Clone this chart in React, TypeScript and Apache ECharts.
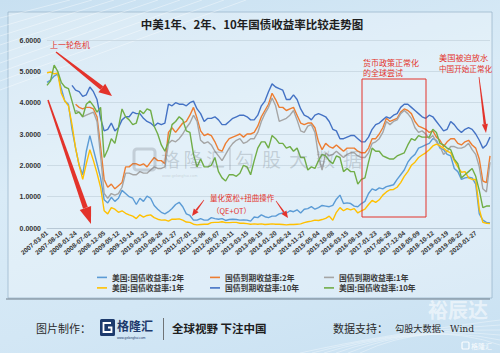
import React, { useEffect, useRef } from "react";
import * as echarts from "echarts";

// ---------- tick labels (x axis shows every 4th sample) ----------
const tickLabels = [
  "2007-03-01", "2007-08-10", "2008-01-24", "2008-07-02", "2008-12-05", "2009-05-12",
  "2009-10-14", "2010-03-23", "2010-08-26", "2011-01-27", "2011-07-01", "2011-12-06",
  "2012-05-07", "2012-10-11", "2013-03-15", "2013-08-15", "2014-01-20", "2014-06-24",
  "2014-11-27", "2015-05-04", "2015-10-08", "2016-03-15", "2016-08-19", "2017-01-23",
  "2017-06-28", "2017-12-04", "2018-05-09", "2018-10-12", "2019-03-19", "2019-08-22",
  "2020-01-27",
];
const STEP = 4;
const yTicks = [0, 1, 2, 3, 4, 5, 6];

// ---------- series values ----------
const usT2 = [
  4.65, 4.72, 4.85, 4.92, 4.45, 4.05, 3.95, 3.15, 2.55, 2.00,
  1.70, 2.45, 2.95, 2.50, 2.05, 1.60, 0.90, 0.80, 0.98, 0.85,
  0.95, 1.20, 1.10, 1.00, 0.95, 0.75, 0.95, 0.85, 1.02, 0.95,
  0.72, 0.60, 0.50, 0.45, 0.52, 0.62, 0.75, 0.82, 0.68, 0.45,
  0.40, 0.25, 0.25, 0.30, 0.25, 0.25, 0.33, 0.30, 0.28, 0.30,
  0.24, 0.27, 0.28, 0.27, 0.25, 0.26, 0.25, 0.22, 0.35, 0.33,
  0.42, 0.36, 0.33, 0.38, 0.38, 0.45, 0.48, 0.47, 0.55, 0.52,
  0.58, 0.48, 0.60, 0.62, 0.68, 0.60, 0.65, 0.72, 0.70, 0.68,
  0.72, 0.92, 1.05, 0.78, 0.80, 0.78, 0.70, 0.68, 0.78, 0.85,
  1.10, 1.25, 1.20, 1.28, 1.25, 1.32, 1.35, 1.38, 1.55, 1.70,
  1.85, 2.10, 2.25, 2.35, 2.55, 2.60, 2.65, 2.70, 2.85, 2.80,
  2.55, 2.50, 2.35, 2.30, 1.90, 1.80, 1.55, 1.60, 1.62, 1.60,
  1.40, 0.45, 0.25, 0.18, 0.16,
];
const cnT2 = [
  null, null, null, null, null, null, null, null, 3.95, 3.85,
  3.80, 3.85, 3.85, 3.80, 3.55, 2.60, 1.55, 1.30, 1.40, 1.25,
  1.35, 1.45, 1.95, 1.95, 2.05, 2.05, 2.00, 2.05, 1.95, 2.10,
  2.25, 2.15, 2.15, 2.05, 3.05, 3.20, 3.05, 3.20, 3.35, 3.40,
  3.60, 3.85, 3.50, 3.10, 2.95, 3.00, 2.95, 2.75, 2.50, 2.45,
  2.70, 2.85, 2.90, 2.95, 3.00, 2.90, 3.00, 3.00, 3.05, 3.25,
  3.55, 3.75, 3.95, 4.30, 4.10, 3.85, 3.85, 3.75, 3.80, 3.85,
  3.60, 3.35, 3.30, 3.35, 3.35, 3.20, 2.75, 2.50, 2.70, 2.60,
  2.55, 2.65, 2.55, 2.45, 2.55, 2.55, 2.55, 2.45, 2.40, 2.40,
  2.55, 2.85, 2.85, 3.00, 3.20, 3.50, 3.40, 3.45, 3.50, 3.70,
  3.80, 3.75, 3.65, 3.40, 3.25, 3.20, 3.15, 3.05, 3.10, 2.90,
  2.80, 2.60, 2.75, 2.85, 2.85, 2.70, 2.65, 2.75, 2.80, 2.65,
  2.55, 2.20, 1.50, 1.45, 2.30,
];
const cnT1 = [
  null, null, null, null, null, null, null, null, 3.75, 3.70,
  3.55, 3.60, 3.65, 3.70, 3.40, 2.30, 1.10, 0.95, 1.10, 1.05,
  1.10, 1.30, 1.75, 1.75, 1.70, 1.70, 1.80, 1.75, 1.75, 1.85,
  1.95, 1.90, 1.90, 1.95, 2.70, 2.80, 2.75, 2.85, 3.00, 3.20,
  3.35, 3.60, 3.40, 2.80, 2.70, 2.75, 2.65, 2.45, 2.30, 2.15,
  2.35, 2.55, 2.70, 2.80, 2.85, 2.70, 2.75, 2.85, 2.85, 3.05,
  3.40, 3.65, 3.85, 4.15, 3.90, 3.40, 3.45, 3.50, 3.60, 3.75,
  3.45, 3.10, 3.05, 3.25, 3.30, 3.05, 2.30, 1.85, 2.40, 2.30,
  2.35, 2.45, 2.35, 2.25, 2.35, 2.40, 2.40, 2.30, 2.25, 2.25,
  2.40, 2.70, 2.75, 2.85, 3.05, 3.40, 3.30, 3.40, 3.45, 3.65,
  3.75, 3.65, 3.50, 3.20, 3.05, 3.10, 3.00, 2.85, 2.95, 2.75,
  2.60, 2.35, 2.45, 2.60, 2.60, 2.55, 2.55, 2.60, 2.70, 2.50,
  2.35, 1.95, 1.25, 1.15, 2.10,
];
const usT1 = [
  4.95, 4.98, 4.92, 4.95, 4.30, 4.05, 3.90, 3.30, 2.55, 2.00,
  1.55, 2.05, 2.50, 2.15, 1.75, 1.30, 0.55, 0.45, 0.65, 0.60,
  0.50, 0.55, 0.47, 0.42, 0.38, 0.30, 0.42, 0.35, 0.40, 0.42,
  0.33, 0.28, 0.25, 0.26, 0.22, 0.28, 0.28, 0.29, 0.25, 0.19,
  0.18, 0.12, 0.10, 0.11, 0.12, 0.12, 0.17, 0.18, 0.18, 0.20,
  0.17, 0.17, 0.18, 0.18, 0.15, 0.15, 0.14, 0.12, 0.13, 0.12,
  0.13, 0.11, 0.12, 0.13, 0.12, 0.12, 0.11, 0.10, 0.11, 0.11,
  0.12, 0.13, 0.17, 0.20, 0.22, 0.25, 0.24, 0.27, 0.31, 0.38,
  0.25, 0.50, 0.65, 0.55, 0.62, 0.58, 0.62, 0.48, 0.55, 0.60,
  0.75, 0.88, 0.82, 0.90, 1.05, 1.15, 1.22, 1.23, 1.30, 1.45,
  1.65, 1.80, 2.00, 2.10, 2.25, 2.33, 2.40, 2.50, 2.62, 2.68,
  2.62, 2.55, 2.45, 2.40, 2.15, 1.95, 1.78, 1.80, 1.60, 1.55,
  1.55, 0.60, 0.18, 0.15, 0.14,
];
const cnT10 = [
  null, null, null, null, null, null, null, 4.55, 4.40, 4.35,
  4.20, 4.25, 4.50, 4.35, 4.10, 3.50, 3.10, 3.15, 3.35, 3.10,
  3.20, 3.45, 3.55, 3.55, 3.70, 3.65, 3.65, 3.50, 3.40, 3.35,
  3.25, 3.35, 3.30, 3.35, 3.95, 3.90, 4.00, 3.95, 3.95, 3.90,
  4.00, 4.05, 3.80, 3.65, 3.40, 3.50, 3.50, 3.55, 3.45, 3.30,
  3.30, 3.40, 3.50, 3.55, 3.60, 3.60, 3.55, 3.45, 3.45, 3.60,
  3.90, 4.05, 4.35, 4.60, 4.50, 4.45, 4.40, 4.10, 4.10, 4.25,
  4.10, 3.80, 3.60, 3.55, 3.45, 3.60, 3.65, 3.60, 3.55, 3.40,
  3.15, 3.10, 2.85, 2.85, 2.90, 2.95, 2.95, 2.85, 2.75, 2.75,
  2.90, 3.15, 3.30, 3.35, 3.45, 3.55, 3.50, 3.60, 3.65, 3.85,
  3.95, 3.95, 3.85, 3.75, 3.65, 3.55, 3.50, 3.60, 3.55, 3.40,
  3.25, 3.10, 3.15, 3.40, 3.30, 3.15, 3.05, 3.15, 3.20, 3.15,
  3.00, 2.80, 2.55, 2.65, 2.90,
];
const usT10 = [
  4.55, 4.70, 5.20, 5.00, 4.65, 4.50, 4.45, 4.05, 3.65, 3.70,
  3.55, 3.95, 4.05, 3.90, 3.70, 3.85, 2.25, 2.50, 2.85, 2.70,
  3.20, 3.80, 3.55, 3.45, 3.30, 3.35, 3.75, 3.65, 3.80, 3.75,
  3.25, 3.00, 2.65, 2.45, 2.75, 3.30, 3.40, 3.55, 3.45, 3.10,
  3.05, 2.35, 1.95, 2.20, 1.95, 1.95, 2.00, 2.25, 1.80, 1.60,
  1.50, 1.70, 1.70, 1.65, 1.75, 2.00, 1.95, 1.70, 2.15, 2.55,
  2.75, 2.75, 2.55, 2.95, 2.85, 2.70, 2.70, 2.55, 2.60, 2.45,
  2.55, 2.25, 2.25, 1.85, 1.95, 1.90, 2.15, 2.35, 2.30, 2.15,
  2.05, 2.30, 2.25, 1.80, 1.90, 1.80, 1.80, 1.40, 1.55, 1.60,
  2.10, 2.55, 2.45, 2.45, 2.30, 2.25, 2.20, 2.20, 2.30, 2.35,
  2.40, 2.65, 2.85, 2.80, 2.95, 2.90, 2.90, 2.90, 3.15, 3.05,
  2.70, 2.65, 2.55, 2.50, 2.20, 2.05, 1.60, 1.70, 1.80, 1.90,
  1.65, 1.20, 0.65, 0.70, 0.70,
];

const seriesNames = [
  "美国:国债收益率:2年",
  "国债到期收益率:2年",
  "国债到期收益率:1年",
  "美国:国债收益率:1年",
  "国债到期收益率:10年",
  "美国:国债收益率:10年",
];
const seriesData = [usT2, cnT2, cnT1, usT1, cnT10, usT10];
const seriesColors = ["#5b9bd5", "#ed7d31", "#a5a5a5", "#ffc000", "#4472c4", "#70ad47"];

// ---------- styling / layout ----------
const RED = "#e3332b";
const CJK = '"Noto Sans CJK SC", "Noto Sans", sans-serif';
const LEG_POS = [
  [97, 273.5], [210, 273.5], [324, 273.5],
  [97, 284], [210, 284], [324, 284],
];

function arrow(x1: number, y1: number, x2: number, y2: number, w: number, hw: number, hl: number) {
  const dx = x2 - x1, dy = y2 - y1;
  const L = Math.hypot(dx, dy);
  const ux = dx / L, uy = dy / L;
  const px = -uy, py = ux;
  const nx = x2 - ux * hl, ny = y2 - uy * hl;
  const t = w * 0.15;
  return [
    {
      type: "polygon", silent: true, z: 100,
      shape: { points: [[x1 + px * t, y1 + py * t], [nx + px * w / 2, ny + py * w / 2], [nx - px * w / 2, ny - py * w / 2], [x1 - px * t, y1 - py * t]] },
      style: { fill: RED },
    },
    {
      type: "polygon", silent: true, z: 100,
      shape: { points: [[x2, y2], [nx + px * hw / 2, ny + py * hw / 2], [nx - px * hw / 2, ny - py * hw / 2]] },
      style: { fill: RED },
    },
  ];
}

function txt(x: number, y: number, text: string, o: any = {}) {
  return {
    type: "text", silent: true, z: o.z ?? 100, x, y,
    style: {
      text,
      fill: o.fill ?? "#333",
      fontSize: o.fontSize ?? 8,
      fontWeight: o.fontWeight ?? "normal",
      fontFamily: o.fontFamily ?? CJK,
      align: o.align ?? "left",
      verticalAlign: "middle",
    },
  };
}

export default function App() {
  const ref = useRef<HTMLDivElement>(null);

  useEffect(() => {
    if (!ref.current) return;
    const chart = echarts.init(ref.current, undefined, { renderer: "svg" });

    const n = usT2.length;
    const categories = Array.from({ length: n }, (_, i) => {
      const k = Math.min(Math.floor(i / STEP), tickLabels.length - 1);
      const r = i - k * STEP;
      return r === 0 ? tickLabels[k] : `${tickLabels[k]}·${r}`;
    });

    const deco: any[] = [];
    // background panel & decorations
    deco.push({
      type: "rect", silent: true, z: -10,
      shape: { x: 8, y: 12, width: 484, height: 286 },
      style: { fill: "rgba(255,255,255,0.28)", stroke: "rgba(150,178,200,0.7)", lineWidth: 1 },
    });
    for (let k = 0; k < 9; k++) {
      deco.push({
        type: "line", silent: true, z: -9,
        shape: { x1: 0, y1: 18 + k * 9, x2: 70 + k * 22, y2: 0 },
        style: { stroke: "rgba(255,255,255,0.55)", lineWidth: 0.7 },
      });
    }
    for (let k = 0; k < 6; k++) {
      deco.push({
        type: "bezierCurve", silent: true, z: -9,
        shape: { x1: 300 + k * 12, y1: 353, cpx1: 380 + k * 10, cpy1: 335 - k * 3, x2: 500, y2: 320 + k * 5 },
        style: { stroke: "rgba(255,255,255,0.5)", lineWidth: 0.7, fill: null },
      });
    }
    deco.push({
      type: "line", silent: true, z: 1,
      shape: { x1: 6, y1: 299, x2: 490, y2: 299 },
      style: { stroke: "#6f7d89", lineWidth: 1 },
    });

    // title
    deco.push(txt(252, 24, "中美1年、2年、10年国债收益率比较走势图", { fontSize: 11.5, fontWeight: "bold", fill: "#1e1e1e", align: "center" }));

    // watermark in the middle
    const wm = "rgba(110,120,130,0.28)";
    deco.push({
      type: "rect", silent: true, z: 5,
      shape: { x: 134, y: 149, width: 21, height: 21, r: 3 },
      style: { fill: "none", stroke: wm, lineWidth: 3 },
    });
    ["格", "隆", "汇"].forEach((c, i) => deco.push(txt(161 + i * 22.5, 158, c, { fontSize: 19, fill: wm, z: 5 })));
    deco.push({ type: "line", silent: true, z: 5, shape: { x1: 230, y1: 148, x2: 230, y2: 170 }, style: { stroke: wm, lineWidth: 1.5 } });
    ["勾", "股", "大", "数", "据"].forEach((c, i) => deco.push(txt(235 + i * 27, 158, c, { fontSize: 19, fill: wm, z: 5 })));
    deco.push(txt(162, 175, "www.gelonghui.com", { fontSize: 4, fill: wm, z: 5, fontFamily: "Liberation Sans" }));

    // annotations
    deco.push(txt(50, 44, "上一轮危机", { fill: RED, fontSize: 8 }));
    deco.push(...arrow(56, 52, 112, 96, 4.5, 11, 13));
    deco.push(...arrow(48, 100, 91, 224, 5, 12, 17));
    deco.push(txt(210, 197, "量化宽松+扭曲操作", { fill: RED, fontSize: 7.5 }));
    deco.push(txt(212, 210, "（QE+OT）", { fill: RED, fontSize: 7.5 }));
    deco.push(...arrow(204, 200, 192, 216, 1.8, 6, 7));
    deco.push(...arrow(276, 201, 288, 218, 1.8, 6, 7));
    deco.push(txt(363, 62, "货币政策正常化", { fill: RED, fontSize: 8 }));
    deco.push(txt(363, 72, "的全球尝试", { fill: RED, fontSize: 8 }));
    deco.push({
      type: "rect", silent: true, z: 100,
      shape: { x: 362, y: 79, width: 64, height: 138 },
      style: { fill: "none", stroke: RED, lineWidth: 1 },
    });
    deco.push(txt(439, 57, "美国被迫放水", { fill: RED, fontSize: 8.2 }));
    deco.push(txt(439, 68, "中国开始正常化", { fill: RED, fontSize: 7.6 }));
    deco.push(...arrow(479, 77, 486, 133, 2.5, 6, 9));

    // footer
    deco.push(txt(36, 328, "图片制作：", { fontSize: 11, fill: "#2a2a2a" }));
    deco.push({
      type: "rect", silent: true, z: 10,
      shape: { x: 100, y: 319, width: 15, height: 17, r: 1.5 },
      style: { fill: "#1d3a6c" },
    });
    deco.push({
      type: "polyline", silent: true, z: 11,
      shape: { points: [[111, 323], [103.5, 323], [103.5, 332], [111.5, 332], [111.5, 327.5], [108, 327.5]] },
      style: { stroke: "#ffffff", lineWidth: 1.8, fill: null },
    });
    deco.push(txt(117, 325, "格隆汇", { fontSize: 12, fontWeight: "bold", fill: "#1d3a6c" }));
    deco.push(txt(117, 337.5, "www.gelonghui.com", { fontSize: 3.2, fill: "#1d3a6c", fontFamily: "Liberation Sans" }));
    deco.push({ type: "line", silent: true, z: 10, shape: { x1: 163.5, y1: 318, x2: 163.5, y2: 340 }, style: { stroke: "#555", lineWidth: 0.8 } });
    deco.push(txt(172, 328, "全球视野 下注中国", { fontSize: 11.5, fontWeight: "bold", fill: "#1e1e1e" }));
    deco.push(txt(333, 328, "数据支持：", { fontSize: 11, fill: "#2a2a2a" }));
    deco.push(txt(395, 328.5, "勾股大数据、Wind", { fontSize: 9.2, fill: "#2a2a2a", fontFamily: '"DejaVu Serif", "Noto Sans CJK SC", serif' }));
    deco.push(txt(428, 309, "裕辰达", { fontSize: 20, fontWeight: "bold", fill: "rgba(255,255,255,0.55)", z: 2 }));
    deco.push({
      type: "rect", silent: true, z: 10,
      shape: { x: 462, y: 342, width: 7, height: 7, r: 1 },
      style: { fill: "none", stroke: "rgba(255,255,255,0.9)", lineWidth: 1.2 },
    });
    deco.push(txt(471, 345.5, "格隆汇", { fontSize: 7, fill: "rgba(255,255,255,0.9)" }));

    const option: any = {
      animation: false,
      grid: { left: 47, right: 10, top: 40, bottom: 125, containLabel: false },
      xAxis: {
        type: "category",
        data: categories,
        boundaryGap: false,
        axisLine: { lineStyle: { color: "#b8c8d5", width: 1 } },
        axisTick: { show: false },
        axisLabel: {
          interval: (i: number) => i % STEP === 0 && i / STEP < tickLabels.length,
          rotate: 40,
          fontSize: 6.5,
          fontWeight: "bold",
          color: "#333",
          margin: 4,
          fontFamily: "Liberation Sans",
        },
        splitLine: { show: false },
      },
      yAxis: {
        type: "value",
        min: yTicks[0],
        max: yTicks[yTicks.length - 1],
        interval: 1,
        axisLine: { show: false },
        axisTick: { show: false },
        axisLabel: {
          formatter: (v: number) => v.toFixed(4),
          fontSize: 7,
          fontWeight: "bold",
          color: "#333",
          margin: 6,
          fontFamily: "Liberation Sans",
        },
        splitLine: { lineStyle: { color: "#c6d5e0", width: 0.8 } },
      },
      legend: seriesNames.map((name, i) => ({
        data: [name],
        left: LEG_POS[i][0],
        top: LEG_POS[i][1],
        padding: 0,
        icon: "rect",
        itemWidth: 10,
        itemHeight: 1.6,
        itemGap: 0,
        textStyle: { fontSize: 7.8, color: "#3a3a3a", fontWeight: "bold", fontFamily: CJK },
        selectedMode: false,
      })),
      series: seriesNames.map((name, i) => ({
        name,
        type: "line",
        data: seriesData[i],
        showSymbol: false,
        symbol: "none",
        connectNulls: false,
        lineStyle: { color: seriesColors[i], width: 1.4 },
        itemStyle: { color: seriesColors[i] },
        emphasis: { disabled: true },
      })),
      graphic: deco,
    };

    chart.setOption(option);
    return () => chart.dispose();
  }, []);

  return (
    <div
      ref={ref}
      style={{
        position: "absolute",
        left: 0,
        top: 0,
        width: 500,
        height: 353,
        background: "linear-gradient(165deg, #c8e0f1 0%, #d9ebf7 40%, #d3e7f5 70%, #c9e1f2 100%)",
      }}
    />
  );
}
